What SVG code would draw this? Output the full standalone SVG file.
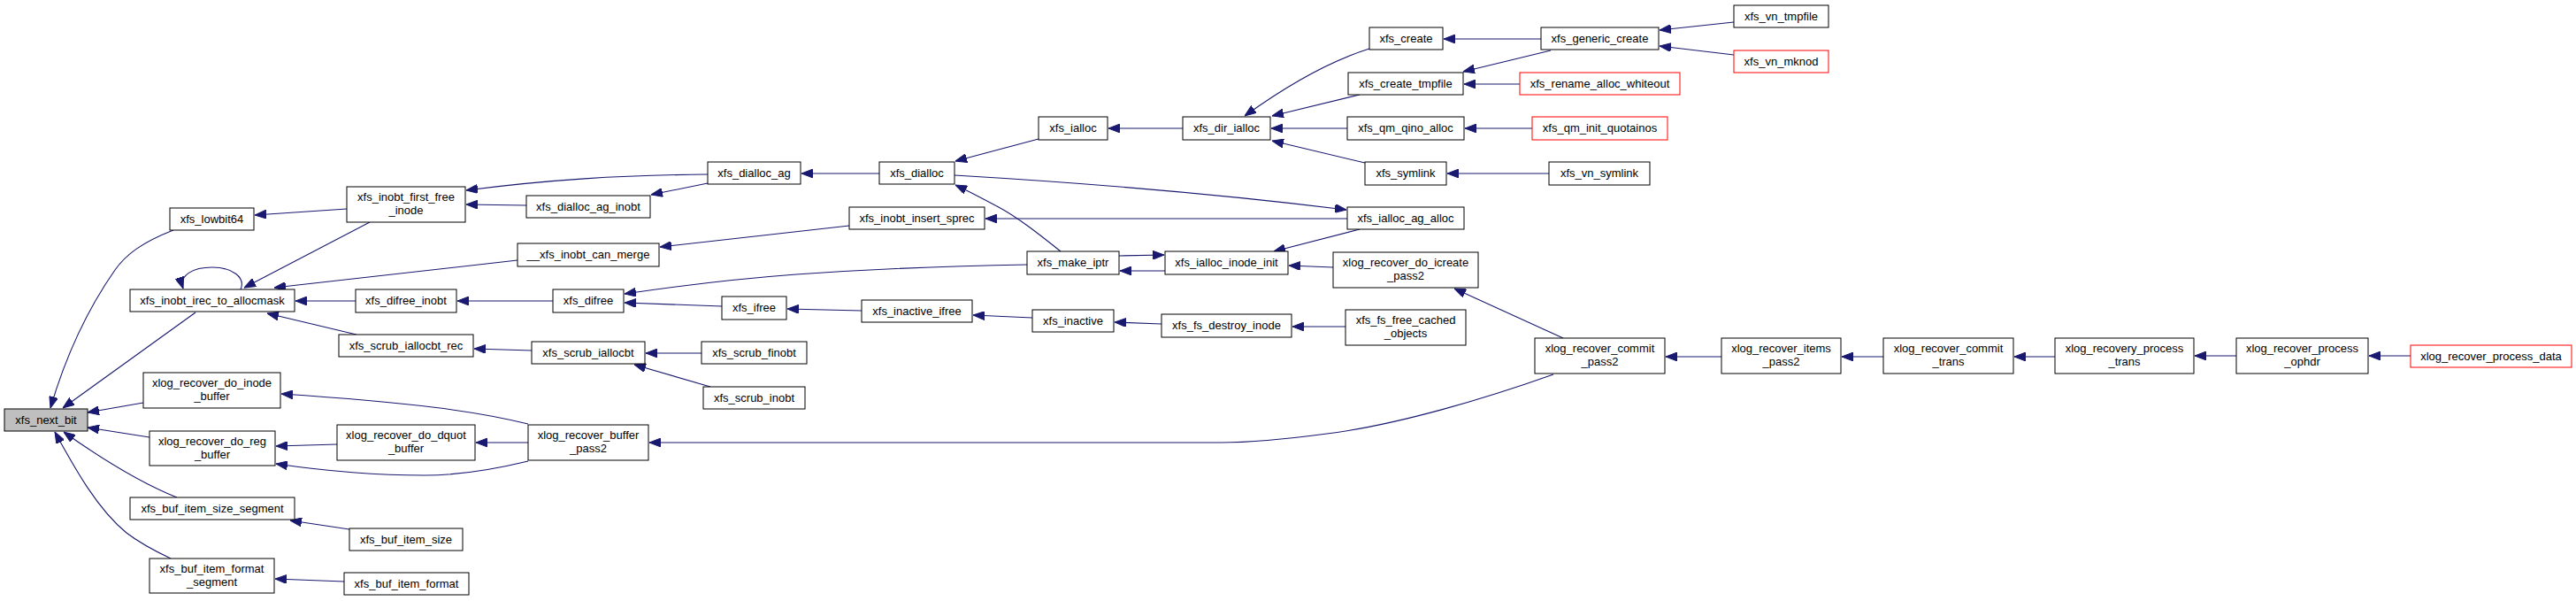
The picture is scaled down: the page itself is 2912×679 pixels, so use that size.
<svg xmlns="http://www.w3.org/2000/svg" width="2912" height="679" viewBox="0 0 2912 679">
<style>
.n rect{fill:#fff;stroke:#000;stroke-width:1}
.n.r rect{stroke:#ff0000}
.n.g rect{fill:#bfbfbf}
.n text{font-family:"Liberation Sans",Arial,sans-serif;font-size:13px;text-anchor:middle;fill:#000}
.e path{fill:none;stroke:#191970;stroke-width:1.1;marker-end:url(#ah)}
</style>
<defs>
<marker id="ah" markerUnits="userSpaceOnUse" viewBox="0 0 13 10" refX="13" refY="5" markerWidth="13" markerHeight="10" orient="auto">
<path d="M0,0 L13,5 L0,10 z" fill="#191970" stroke="#191970" stroke-width="1"/>
</marker>
</defs>
<rect width="2912" height="679" fill="#fff"/>
<g id="edges" class="e">
<path d="M196,260 C160,274 142,288 130,305 C95,355 72,410 57,461"/>
<path d="M221,353 L71,461"/>
<path d="M162,455 L99,466"/>
<path d="M169,494 L99,483"/>
<path d="M200,562 C160,546 120,522 72,488"/>
<path d="M193,631 C172,621 156,612 143,602 C110,575 85,530 62,488"/>
<path d="M392,236 L288,243"/>
<path d="M418,251 L276,325"/>
<path d="M272,327 C278,313 262,302 240,302 C218,302 202,311 207,326"/>
<path d="M585,294 L310,325"/>
<path d="M402,340 L334,340"/>
<path d="M403,378 L302,354"/>
<path d="M395,598 L328,588"/>
<path d="M389,657 L311,654"/>
<path d="M381,502 L312,504"/>
<path d="M597,500 L538,500"/>
<path d="M597,521 C560,530 520,537 480,537 C420,537 360,531 312,524"/>
<path d="M597,479 C540,465 470,455 318,445"/>
<path d="M1756,423 C1680,450 1580,480 1500,490 C1440,498 1400,500 1380,500 L734,500"/>
<path d="M595,232 L527,231"/>
<path d="M800,197 C700,198 620,203 527,215"/>
<path d="M800,207 L736,220"/>
<path d="M994,196 L906,196"/>
<path d="M960,255 L746,279"/>
<path d="M1161,299 C1100,300 1000,303 900,310 C820,316 760,324 706,332"/>
<path d="M816,346 L706,342"/>
<path d="M974,351 L890,349"/>
<path d="M1167,359 L1100,356"/>
<path d="M1313,366 L1260,364"/>
<path d="M1521,369 L1461,369"/>
<path d="M601,396 L536,394"/>
<path d="M625,340 L517,340"/>
<path d="M793,399 L730,399"/>
<path d="M803,437 L717,412"/>
<path d="M1174,157 L1080,182"/>
<path d="M1199,284 C1175,265 1150,245 1127,233 C1110,224 1095,216 1080,209"/>
<path d="M1079,198 C1250,208 1400,222 1522,237"/>
<path d="M1523,247 L1114,247"/>
<path d="M1537,259 L1440,284"/>
<path d="M1507,302 L1457,300"/>
<path d="M1265,289 L1316,288"/>
<path d="M1317,306 L1266,306"/>
<path d="M1337,145 L1253,145"/>
<path d="M1548,55 C1500,70 1450,100 1407,131"/>
<path d="M1537,107 L1438,131"/>
<path d="M1523,145 L1437,145"/>
<path d="M1543,184 L1438,159"/>
<path d="M1742,44 L1632,44"/>
<path d="M1753,57 L1654,81"/>
<path d="M1718,95 L1655,95"/>
<path d="M1732,145 L1656,145"/>
<path d="M1751,196 L1636,196"/>
<path d="M1960,25 L1876,34"/>
<path d="M1960,62 L1876,52"/>
<path d="M1767,382 L1644,326"/>
<path d="M1946,403 L1883,403"/>
<path d="M2129,403 L2082,403"/>
<path d="M2323,403 L2277,403"/>
<path d="M2528,402 L2481,402"/>
<path d="M2725,402 L2678,402"/>
</g>
<g id="xfs_next_bit" class="n g"><rect x="5" y="462" width="94" height="25"/><text x="52" y="479">xfs_next_bit</text></g>
<g id="xfs_lowbit64" class="n"><rect x="192" y="235" width="95" height="25"/><text x="239.5" y="252">xfs_lowbit64</text></g>
<g id="xfs_inobt_irec_to_allocmask" class="n"><rect x="147" y="327" width="186" height="25"/><text x="240" y="344">xfs_inobt_irec_to_allocmask</text></g>
<g id="xlog_recover_do_inode_buffer" class="n"><rect x="162" y="421" width="155" height="40"/><text x="239.5" y="437">xlog_recover_do_inode</text><text x="239.5" y="451.5">_buffer</text></g>
<g id="xlog_recover_do_reg_buffer" class="n"><rect x="169" y="487" width="142" height="39"/><text x="240" y="503">xlog_recover_do_reg</text><text x="240" y="517.5">_buffer</text></g>
<g id="xfs_buf_item_size_segment" class="n"><rect x="147" y="562" width="186" height="25"/><text x="240" y="579">xfs_buf_item_size_segment</text></g>
<g id="xfs_buf_item_format_segment" class="n"><rect x="169" y="631" width="141" height="39"/><text x="239.5" y="647">xfs_buf_item_format</text><text x="239.5" y="661.5">_segment</text></g>
<g id="xfs_inobt_first_free_inode" class="n"><rect x="392" y="211" width="134" height="40"/><text x="459" y="227">xfs_inobt_first_free</text><text x="459" y="241.5">_inode</text></g>
<g id="xfs_difree_inobt" class="n"><rect x="402" y="327" width="114" height="26"/><text x="459" y="344">xfs_difree_inobt</text></g>
<g id="xfs_scrub_iallocbt_rec" class="n"><rect x="383" y="378" width="152" height="25"/><text x="459" y="395">xfs_scrub_iallocbt_rec</text></g>
<g id="xlog_recover_do_dquot_buffer" class="n"><rect x="381" y="480" width="156" height="40"/><text x="459" y="496">xlog_recover_do_dquot</text><text x="459" y="510.5">_buffer</text></g>
<g id="xlog_recover_buffer_pass2" class="n"><rect x="597" y="480" width="136" height="40"/><text x="665" y="496">xlog_recover_buffer</text><text x="665" y="510.5">_pass2</text></g>
<g id="xfs_buf_item_size" class="n"><rect x="395" y="597" width="128" height="25"/><text x="459" y="614">xfs_buf_item_size</text></g>
<g id="xfs_buf_item_format" class="n"><rect x="389" y="647" width="141" height="25"/><text x="459.5" y="664">xfs_buf_item_format</text></g>
<g id="xfs_dialloc_ag_inobt" class="n"><rect x="595" y="221" width="140" height="25"/><text x="665" y="238">xfs_dialloc_ag_inobt</text></g>
<g id="__xfs_inobt_can_merge" class="n"><rect x="585" y="275" width="160" height="26"/><text x="665" y="292">__xfs_inobt_can_merge</text></g>
<g id="xfs_dialloc_ag" class="n"><rect x="800" y="183" width="105" height="25"/><text x="852.5" y="200">xfs_dialloc_ag</text></g>
<g id="xfs_difree" class="n"><rect x="625" y="327" width="80" height="26"/><text x="665" y="344">xfs_difree</text></g>
<g id="xfs_scrub_iallocbt" class="n"><rect x="601" y="386" width="128" height="25"/><text x="665" y="403">xfs_scrub_iallocbt</text></g>
<g id="xfs_scrub_finobt" class="n"><rect x="793" y="386" width="119" height="25"/><text x="852.5" y="403">xfs_scrub_finobt</text></g>
<g id="xfs_scrub_inobt" class="n"><rect x="795" y="437" width="115" height="25"/><text x="852.5" y="454">xfs_scrub_inobt</text></g>
<g id="xfs_ifree" class="n"><rect x="816" y="335" width="73" height="26"/><text x="852.5" y="352">xfs_ifree</text></g>
<g id="xfs_dialloc" class="n"><rect x="994" y="183" width="85" height="25"/><text x="1036.5" y="200">xfs_dialloc</text></g>
<g id="xfs_inobt_insert_sprec" class="n"><rect x="960" y="234" width="153" height="25"/><text x="1036.5" y="251">xfs_inobt_insert_sprec</text></g>
<g id="xfs_inactive_ifree" class="n"><rect x="974" y="339" width="125" height="25"/><text x="1036.5" y="356">xfs_inactive_ifree</text></g>
<g id="xfs_ialloc" class="n"><rect x="1174" y="132" width="78" height="26"/><text x="1213" y="149">xfs_ialloc</text></g>
<g id="xfs_make_iptr" class="n"><rect x="1161" y="284" width="104" height="26"/><text x="1213" y="301">xfs_make_iptr</text></g>
<g id="xfs_inactive" class="n"><rect x="1167" y="350" width="92" height="25"/><text x="1213" y="367">xfs_inactive</text></g>
<g id="xfs_dir_ialloc" class="n"><rect x="1337" y="132" width="99" height="26"/><text x="1386.5" y="149">xfs_dir_ialloc</text></g>
<g id="xfs_ialloc_inode_init" class="n"><rect x="1317" y="284" width="139" height="26"/><text x="1386.5" y="301">xfs_ialloc_inode_init</text></g>
<g id="xfs_fs_destroy_inode" class="n"><rect x="1313" y="355" width="147" height="26"/><text x="1386.5" y="372">xfs_fs_destroy_inode</text></g>
<g id="xfs_create" class="n"><rect x="1548" y="31" width="83" height="25"/><text x="1589.5" y="48">xfs_create</text></g>
<g id="xfs_create_tmpfile" class="n"><rect x="1524" y="82" width="130" height="25"/><text x="1589" y="99">xfs_create_tmpfile</text></g>
<g id="xfs_qm_qino_alloc" class="n"><rect x="1523" y="132" width="132" height="26"/><text x="1589" y="149">xfs_qm_qino_alloc</text></g>
<g id="xfs_symlink" class="n"><rect x="1543" y="183" width="92" height="26"/><text x="1589" y="200">xfs_symlink</text></g>
<g id="xfs_ialloc_ag_alloc" class="n"><rect x="1523" y="234" width="132" height="25"/><text x="1589" y="251">xfs_ialloc_ag_alloc</text></g>
<g id="xlog_recover_do_icreate_pass2" class="n"><rect x="1507" y="285" width="164" height="40"/><text x="1589" y="301">xlog_recover_do_icreate</text><text x="1589" y="315.5">_pass2</text></g>
<g id="xfs_fs_free_cached_objects" class="n"><rect x="1521" y="350" width="136" height="40"/><text x="1589" y="366">xfs_fs_free_cached</text><text x="1589" y="380.5">_objects</text></g>
<g id="xfs_generic_create" class="n"><rect x="1742" y="31" width="133" height="25"/><text x="1808.5" y="48">xfs_generic_create</text></g>
<g id="xfs_rename_alloc_whiteout" class="n r"><rect x="1718" y="82" width="181" height="25"/><text x="1808.5" y="99">xfs_rename_alloc_whiteout</text></g>
<g id="xfs_qm_init_quotainos" class="n r"><rect x="1732" y="132" width="153" height="26"/><text x="1808.5" y="149">xfs_qm_init_quotainos</text></g>
<g id="xfs_vn_symlink" class="n"><rect x="1751" y="183" width="114" height="26"/><text x="1808" y="200">xfs_vn_symlink</text></g>
<g id="xlog_recover_commit_pass2" class="n"><rect x="1735" y="382" width="147" height="40"/><text x="1808.5" y="398">xlog_recover_commit</text><text x="1808.5" y="412.5">_pass2</text></g>
<g id="xfs_vn_tmpfile" class="n"><rect x="1960" y="6" width="107" height="25"/><text x="2013.5" y="23">xfs_vn_tmpfile</text></g>
<g id="xfs_vn_mknod" class="n r"><rect x="1960" y="57" width="107" height="25"/><text x="2013.5" y="74">xfs_vn_mknod</text></g>
<g id="xlog_recover_items_pass2" class="n"><rect x="1946" y="382" width="135" height="40"/><text x="2013.5" y="398">xlog_recover_items</text><text x="2013.5" y="412.5">_pass2</text></g>
<g id="xlog_recover_commit_trans" class="n"><rect x="2129" y="382" width="147" height="40"/><text x="2202.5" y="398">xlog_recover_commit</text><text x="2202.5" y="412.5">_trans</text></g>
<g id="xlog_recovery_process_trans" class="n"><rect x="2323" y="382" width="157" height="40"/><text x="2401.5" y="398">xlog_recovery_process</text><text x="2401.5" y="412.5">_trans</text></g>
<g id="xlog_recover_process_ophdr" class="n"><rect x="2528" y="382" width="149" height="40"/><text x="2602.5" y="398">xlog_recover_process</text><text x="2602.5" y="412.5">_ophdr</text></g>
<g id="xlog_recover_process_data" class="n r"><rect x="2725" y="390" width="182" height="25"/><text x="2816" y="407">xlog_recover_process_data</text></g>
</svg>
